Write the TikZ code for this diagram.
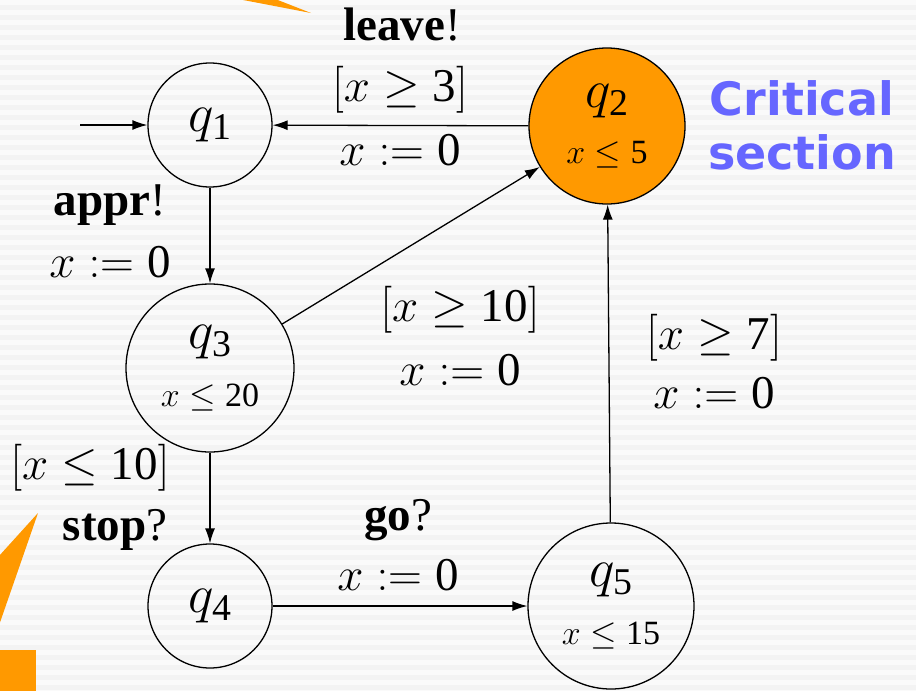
\documentclass[tikz,border=0pt]{standalone}
\usepackage{fix-cm}
\usepackage{amsmath}
\usepackage{fontspec}
\setmainfont{Liberation Serif}
\newfontfamily\dejavub{DejaVu Sans}
\usetikzlibrary{arrows.meta}
\definecolor{orng}{HTML}{FF9900}
\definecolor{crit}{HTML}{6666FF}
\definecolor{bgA}{HTML}{F3F3F3}
\definecolor{bgB}{HTML}{FAFAFA}
\newcommand{\lblfont}{\fontsize{47}{52}\selectfont}
\newcommand{\invfont}{\fontsize{34}{36}\selectfont}
\newcommand{\tn}[1]{\text{#1}}
\newcommand{\qq}[1]{{\fontsize{54}{54}\selectfont$q_{\tn{#1}}$}}
\tikzset{
  state/.style={circle, draw=black, line width=1.3pt, inner sep=0pt, align=center},
  lab/.style={inner sep=0pt, font=\lblfont, align=center},
  arr/.style={line width=1.3pt, -{Latex[length=15pt,width=10pt]}},
}
\begin{document}
\begin{tikzpicture}[x=1pt,y=-1pt]
\useasboundingbox (0,0) rectangle (916,691);
\fill[bgA] (0,0) rectangle (916,691);
\foreach \y in {0,10,...,690} \fill[bgB] (0,\y) rectangle (916,\y+5);
% orange callout shapes
\begin{scope}
\clip (0,0) rectangle (916,691);
\fill[orng] (217,-5) -- (265,-5) -- (311,13) -- cycle;
\fill[orng] (38,513) -- (-20,577) -- (-20,680) -- cycle;
\fill[orng] (-5,650) rectangle (36,700);
\end{scope}
% states
\node[state, minimum size=124pt] (q1) at (210,125) {\qq{1}};
\node[state, minimum size=156pt, fill=orng] (q2) at (607,126) {\qq{2}\\[22pt]{\invfont$x\leq\tn{5}$}};
\node[state, minimum size=168pt] (q3) at (210,368) {\qq{3}\\[24pt]{\invfont$x\leq\tn{20}$}};
\node[state, minimum size=124pt] (q4) at (210,606) {\qq{4}};
\node[state, minimum size=166pt] (q5) at (611,606) {\qq{5}\\[24pt]{\invfont$x\leq\tn{15}$}};
\coordinate (init) at (80,125);
% edges
\draw[arr] (init) -- (q1);
\draw[arr] (q2) -- (q1);
\draw[arr] (q1) -- (q3);
\draw[arr] (q3) -- (q2);
\draw[arr] (q3) -- (q4);
\draw[arr] (q4) -- (q5);
\draw[arr] (q5) -- (q2);
% labels
\node[lab] (l21a) at (402,25) {\textbf{leave}!};
\node[lab] (l21b) at (400,90) {$[x\geq\tn{3}]$};
\node[lab] (l21c) at (400,150) {$x:=\tn{0}$};
\node[lab] (l13a) at (110,205) {\textbf{appr}!};
\node[lab] (l13b) at (110,262) {$x:=\tn{0}$};
\node[lab] (l32a) at (460,310) {$[x\geq\tn{10}]$};
\node[lab] (l32b) at (460,370) {$x:=\tn{0}$};
\node[lab] (l52a) at (714,338) {$[x\geq\tn{7}]$};
\node[lab] (l52b) at (714,393) {$x:=\tn{0}$};
\node[lab] (l34a) at (90,468) {$[x\leq\tn{10}]$};
\node[lab] (l34b) at (115,530) {\textbf{stop}?};
\node[lab] (l45a) at (398,520) {\textbf{go}?};
\node[lab] (l45b) at (398,575) {$x:=\tn{0}$};
\node[inner sep=0pt, text=crit, font=\dejavub\bfseries\fontsize{46}{54}\selectfont, align=center] (crit) at (802,125) {Critical\\section};
\end{tikzpicture}
\end{document}
